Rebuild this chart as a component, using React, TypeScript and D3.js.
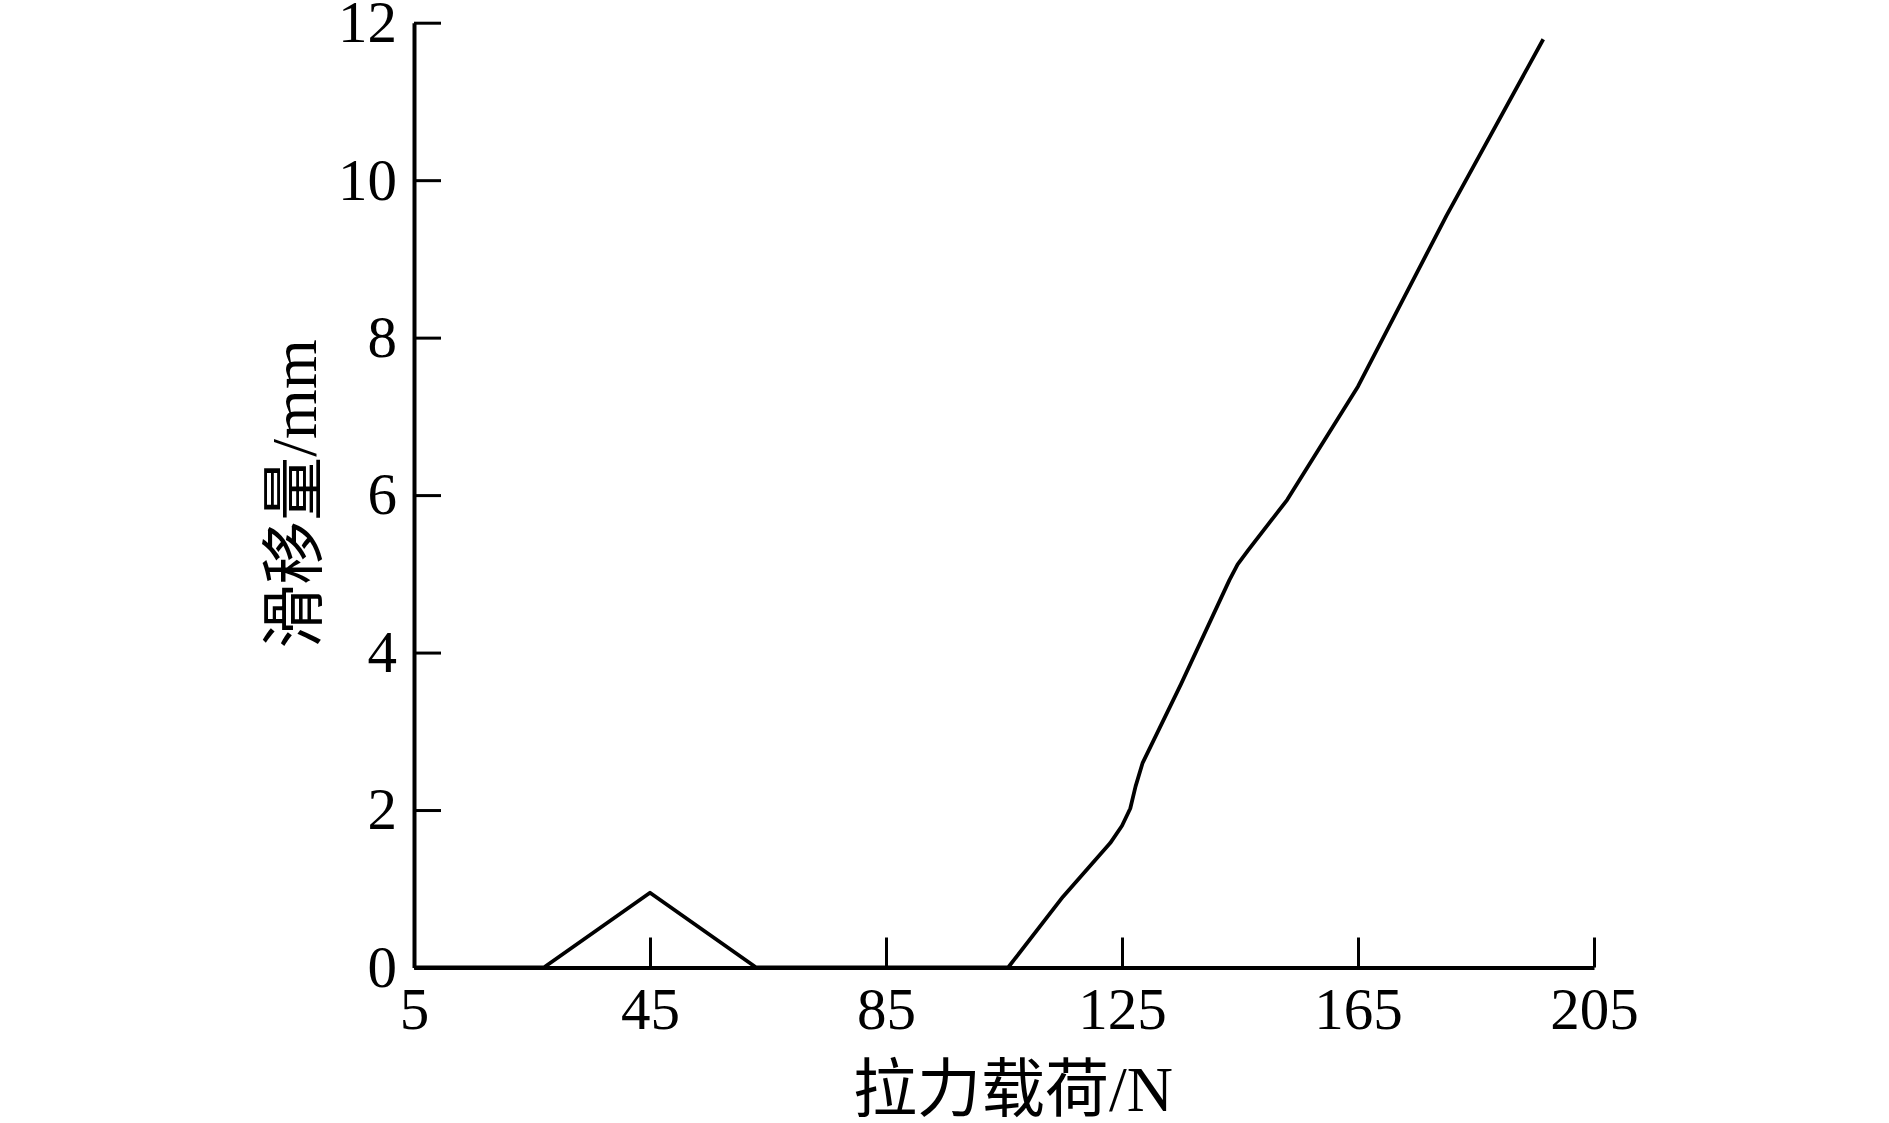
import React, { useEffect, useRef } from 'react';
import * as d3 from 'd3';

// load (N) and slip (mm)
const loadN = [5, 27, 45, 63, 105.7, 115, 123, 125, 126.4, 127.3, 128.5, 135, 143.2, 144.6, 146.4, 150, 153, 165, 180, 196.4];
const slipMm = [0, 0, 0.95, 0, 0, 0.9, 1.58, 1.8, 2.02, 2.3, 2.6, 3.6, 4.92, 5.12, 5.3, 5.65, 5.94, 7.38, 9.55, 11.79];

const xTicks = [5, 45, 85, 125, 165, 205];
const yTicks = [0, 2, 4, 6, 8, 10, 12];

const xTitle = '拉力载荷/N';
const yTitle = '滑移量/mm';

const W = 1889;
const H = 1123;
const FONT = '"Liberation Serif", "Times New Roman", "Noto Sans CJK SC", serif';

const App = () => {
    const ref = useRef<SVGSVGElement>(null);

    useEffect(() => {
        if (!ref.current) return;
        const svg = d3.select(ref.current);
        svg.selectAll('*').remove();

        const x = d3.scaleLinear().domain([5, 205]).range([414, 1594]);
        const y = d3.scaleLinear().domain([0, 12]).range([967.5, 22.7]);

        // x axis, ticks pointing inward
        const gx = svg.append('g')
            .attr('transform', `translate(0,${y(0)})`)
            .call(d3.axisBottom(x).tickValues(xTicks).tickSizeInner(-30).tickSizeOuter(0).tickPadding(20).tickFormat(d3.format('d')));

        // y axis
        const gy = svg.append('g')
            .attr('transform', `translate(${x(5)},0)`)
            .call(d3.axisLeft(y).tickValues(yTicks).tickSizeInner(-27).tickSizeOuter(0).tickPadding(17).tickFormat(d3.format('d')));

        [gx, gy].forEach(g => {
            g.attr('font-size', null).attr('font-family', null);
            g.select('.domain').attr('stroke', '#000').attr('stroke-width', 4);
            g.selectAll('.tick line').attr('stroke', '#000').attr('stroke-width', 3);
            g.selectAll('.tick text')
                .attr('fill', '#000')
                .style('font-family', FONT)
                .style('font-size', '59px');
        });

        const data = loadN.map((v, i) => [v, slipMm[i]] as [number, number]);
        const line = d3.line<[number, number]>()
            .x(d => x(d[0]))
            .y(d => y(d[1]))
            .curve(d3.curveLinear);

        svg.append('path')
            .datum(data)
            .attr('d', line)
            .attr('fill', 'none')
            .attr('stroke', '#000')
            .attr('stroke-width', 3.8)
            .attr('stroke-linejoin', 'round');

        // axis titles
        svg.append('text')
            .attr('x', 1013)
            .attr('y', 1111)
            .attr('text-anchor', 'middle')
            .style('font-family', FONT)
            .style('font-size', '64px')
            .text(xTitle);

        svg.append('text')
            .attr('transform', `translate(316,494) rotate(-90)`)
            .attr('text-anchor', 'middle')
            .style('font-family', FONT)
            .style('font-size', '64px')
            .text(yTitle);
    }, []);

    return (
        <svg
            ref={ref}
            width={W}
            height={H}
            style={{ position: 'absolute', left: 0, top: 0, background: '#fff' }}
        />
    );
};

export default App;
